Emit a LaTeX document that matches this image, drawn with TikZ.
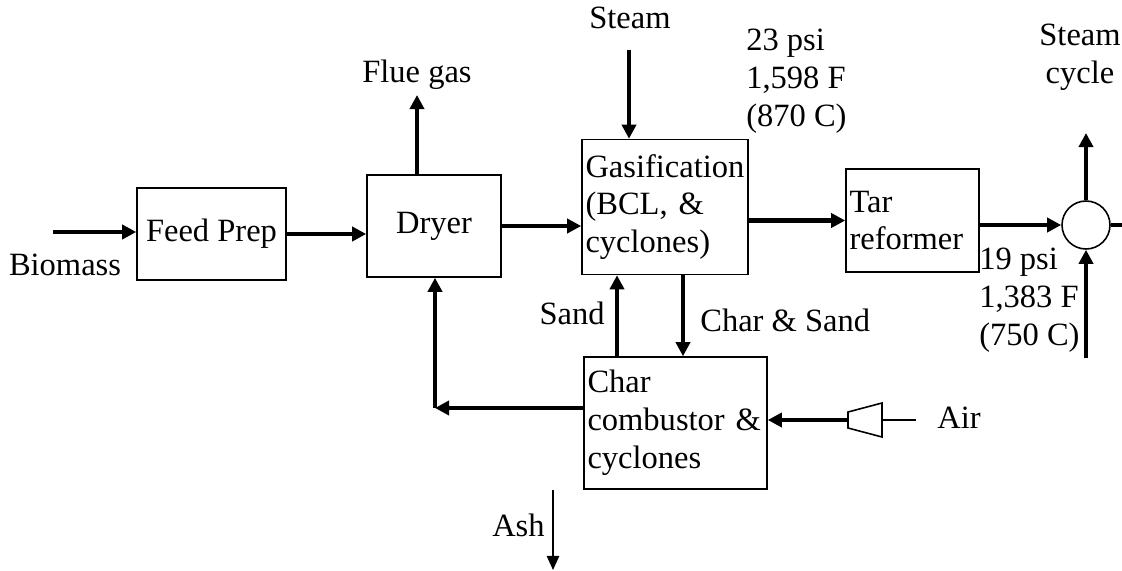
\documentclass[tikz,border=0pt]{standalone}
\usepackage{fontspec}
\setmainfont{Liberation Serif}
\usepackage{tikz}
\usetikzlibrary{arrows.meta, calc}
\tikzstyle{unit} = [rectangle, draw=black, line width=0.9pt, inner sep=2pt,
                    font=\fontsize{18.5}{21.5}\selectfont]
\tikzstyle{lbl} = [inner sep=0pt, font=\fontsize{18.5}{21.5}\selectfont]
\tikzstyle{arrow} = [-{Triangle[length=8pt, width=8pt]}, line width=2.3pt]
\tikzstyle{thin} = [-{Triangle[length=8pt, width=7pt]}, line width=1.1pt]

\begin{document}
\begin{tikzpicture}[x=0.02cm, y=-0.02cm]
    \useasboundingbox (0,0) rectangle (1122,571);

    \node[unit, minimum width=2.98cm, minimum height=1.84cm] (feed) at (211.5,234) {Feed Prep};
    \node[unit, minimum width=2.68cm, minimum height=2.04cm] (dryer) at (434,226) {Dryer};
    \node[unit, text width=3.18cm, minimum height=2.7cm, align=left] (gasif) at (665,207)
        {Gasification\\(BCL, \&\\cyclones)};
    \node[unit, text width=2.52cm, minimum height=2.06cm, align=left] (tar) at (912.5,220.5)
        {Tar\\reformer};
    \node[unit, text width=3.52cm, minimum height=2.64cm, align=left] (char) at (675.5,423)
        {Char\\combustor \&\\cyclones};
    \node[circle, draw=black, line width=0.9pt, minimum size=0.96cm, inner sep=0pt] (hx) at (1086,225) {};

    \node[lbl] (biomass) at (65,265) {Biomass};
    \node[lbl] (steam) at (630,18) {Steam};
    \node[lbl] (flue) at (417,75) {Flue gas};
    \node[lbl, anchor=west, align=left] (gasout) at (746,81) {23 psi\\1,598 F\\(870 C)};
    \node[lbl, anchor=west, align=left] (tarout) at (979,300) {19 psi\\1,383 F\\(750 C)};
    \node[lbl, align=center] (stcycle) at (1080,57) {Steam\\cycle};
    \node[lbl, anchor=east] (sand) at (605,313) {Sand};
    \node[lbl, anchor=west] (charsand) at (700,320) {Char \& Sand};
    \node[lbl, anchor=west] (air) at (937,418) {Air};
    \node[lbl, anchor=east] (ash) at (545,525) {Ash};

    \coordinate (bio) at (53,232);
    \coordinate (flueend) at (417,95);
    \coordinate (steamin) at (629,50);
    \coordinate (sandup) at (617,0);
    \coordinate (chardown) at (683,0);
    \coordinate (corner) at (435,408);
    \coordinate (hxin) at (1086,358);
    \coordinate (hxup) at (1086,133);
    \coordinate (hxout) at (1122,225);
    \coordinate (cmpl) at (848,420);
    \coordinate (cmpr) at (882,420);
    \coordinate (airin) at (916,420);
    \coordinate (ashtop) at (553,490);
    \coordinate (ashend) at (553,570);

    \draw[line width=0.9pt] (848,412) -- (882,403) -- (882,437) -- (848,428) -- cycle;

    \draw[arrow] (bio) -- (bio -| feed.west);
    \draw[arrow] (feed.east) -- (feed.east -| dryer.west);
    \draw[arrow] (dryer.east) -- (dryer.east -| gasif.west);
    \draw[arrow] (gasif.east |- tar.west) -- (tar.west);
    \draw[arrow] (tar.east |- hx.west) -- (hx.west);
    \draw[arrow] (flueend |- dryer.north) -- (flueend);
    \draw[arrow] (steamin) -- (steamin |- gasif.north);
    \draw[arrow] (sandup |- char.north) -- (sandup |- gasif.south);
    \draw[arrow] (chardown |- gasif.south) -- (chardown |- char.north);
    \draw[arrow] (char.west |- corner) -- (corner);
    \draw[arrow] (corner) -- (corner |- dryer.south);
    \draw[arrow] (hx.north) -- (hxup);
    \draw[arrow] (hxin) -- (hx.south);
    \draw[line width=2.3pt] (hx.east) -- (hxout);
    \draw[arrow] (cmpl) -- (cmpl -| char.east);
    \draw[line width=1.1pt] (airin) -- (cmpr);
    \draw[thin] (ashtop) -- (ashend);
\end{tikzpicture}
\end{document}
